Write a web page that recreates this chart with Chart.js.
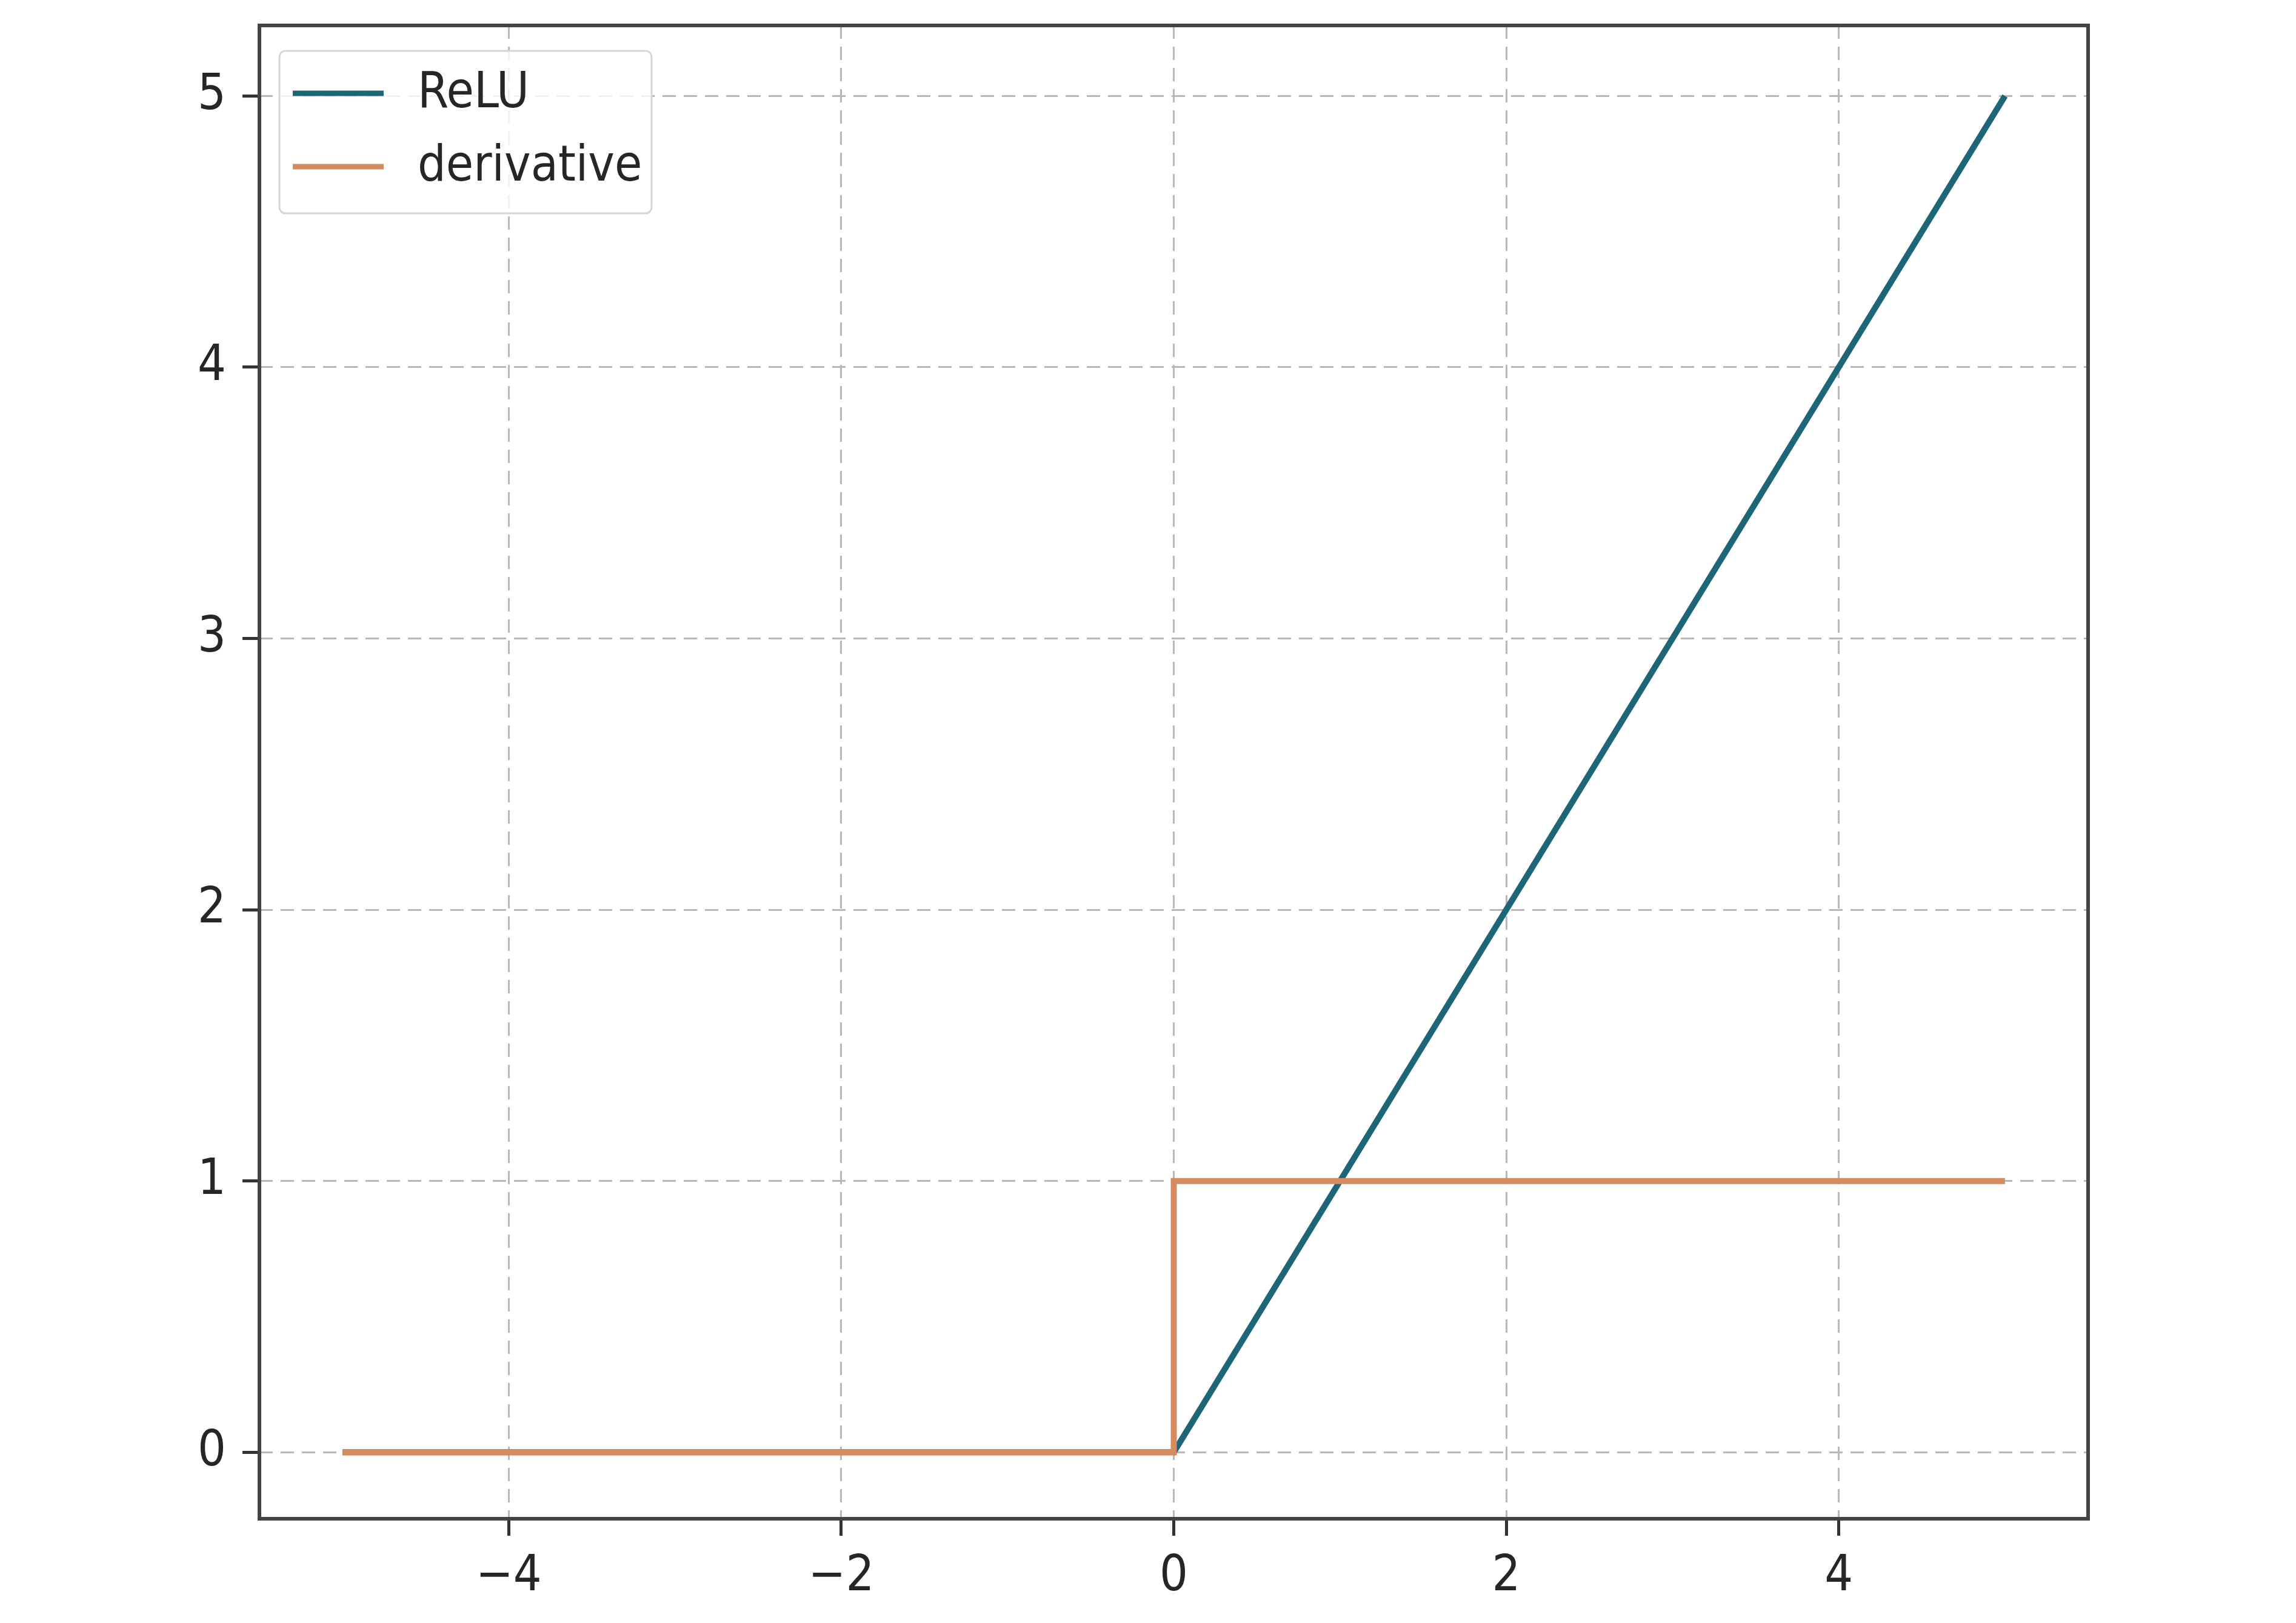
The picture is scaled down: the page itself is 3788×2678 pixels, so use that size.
<!DOCTYPE html>
<html>
<head>
<meta charset="utf-8">
<script src="https://cdn.jsdelivr.net/npm/chart.js@4.4.1/dist/chart.umd.min.js"></script>
<style>
  html, body { margin: 0; padding: 0; background: #ffffff; }
  #wrap { width: 3788px; height: 2678px; }
</style>
</head>
<body>
<div id="wrap"><canvas id="reluChart" width="3788" height="2678"></canvas></div>
<script>
// ===============================
// DATA
// ===============================
const reluX = [-5, 0, 5];
const reluY = [0, 0, 5];

const derivX = [-5, 0, 0, 5];
const derivY = [0, 0, 1, 1];

const xTicks = [-4, -2, 0, 2, 4];
const yTicks = [0, 1, 2, 3, 4, 5];

const seriesNames = ["ReLU", "derivative"];
const seriesColors = ["#1d6677", "#d68a60"];

const FONT = "'DejaVu Sans Condensed', 'DejaVu Sans', sans-serif";
const FONT_SIZE = 82;

// ===============================
// PLUGINS
// ===============================
const framePlugin = {
  id: "frame",
  afterDatasetsDraw(chart) {
    const { ctx, chartArea: a } = chart;
    ctx.save();
    ctx.strokeStyle = "#444444";
    ctx.lineWidth = 6;
    ctx.strokeRect(a.left, a.top, a.right - a.left, a.bottom - a.top);
    ctx.restore();
  },
};

const legendBoxPlugin = {
  id: "legendBox",
  afterDraw(chart) {
    const { ctx, chartArea: a } = chart;
    const x = a.left + 33;
    const y = a.top + 42;
    const w = 614;
    const h = 268;

    ctx.save();
    ctx.beginPath();
    ctx.roundRect(x, y, w, h, 10);
    ctx.fillStyle = "rgba(255,255,255,0.8)";
    ctx.fill();
    ctx.lineWidth = 3;
    ctx.strokeStyle = "#d6d6d6";
    ctx.stroke();

    ctx.font = FONT_SIZE + "px " + FONT;
    ctx.textBaseline = "middle";
    ctx.textAlign = "left";

    chart.data.datasets.forEach((ds, i) => {
      const rowY = y + 70 + i * 121;
      ctx.beginPath();
      ctx.moveTo(x + 22, rowY);
      ctx.lineTo(x + 172, rowY);
      ctx.lineWidth = 9;
      ctx.strokeStyle = ds.borderColor;
      ctx.stroke();

      ctx.fillStyle = "#262626";
      ctx.fillText(ds.label, x + 228, rowY + 2);
    });
    ctx.restore();
  },
};

// ===============================
// CHART
// ===============================
const toPoints = (xs, ys) => xs.map((x, i) => ({ x: x, y: ys[i] }));

const gridOpts = {
  color: "#b8b8b8",
  lineWidth: 3,
  tickLength: 28,
  tickColor: "#333333",
  tickWidth: 5,
  tickBorderDash: [],
};

new Chart(document.getElementById("reluChart"), {
  type: "line",
  data: {
    datasets: [
      {
        label: seriesNames[0],
        data: toPoints(reluX, reluY),
        borderColor: seriesColors[0],
        borderWidth: 10,
        pointRadius: 0,
        tension: 0,
        fill: false,
        order: 1,
      },
      {
        label: seriesNames[1],
        data: toPoints(derivX, derivY),
        borderColor: seriesColors[1],
        borderWidth: 10,
        pointRadius: 0,
        tension: 0,
        fill: false,
        order: 0,
      },
    ],
  },
  options: {
    responsive: false,
    animation: false,
    layout: { padding: { top: 42, right: 343, bottom: 0, left: 0 } },
    plugins: {
      legend: { display: false },
      tooltip: { enabled: false },
    },
    scales: {
      x: {
        type: "linear",
        min: -5.5,
        max: 5.5,
        afterBuildTicks: (scale) => {
          scale.ticks = xTicks.map((v) => ({ value: v }));
        },
        afterFit: (scale) => {
          scale.height = 2678 - 2506;
          scale.paddingLeft = 0;
          scale.paddingRight = 0;
        },
        ticks: {
          font: { family: FONT, size: FONT_SIZE },
          color: "#262626",
          padding: 20,
          callback: (v) => String(v).replace("-", "\u2212"),
        },
        grid: gridOpts,
        border: { display: false, dash: [22, 13] },
      },
      y: {
        type: "linear",
        min: -0.245,
        max: 5.26,
        afterBuildTicks: (scale) => {
          scale.ticks = yTicks.map((v) => ({ value: v }));
        },
        afterFit: (scale) => {
          scale.width = 428;
          scale.paddingTop = 0;
          scale.paddingBottom = 0;
        },
        ticks: {
          font: { family: FONT, size: FONT_SIZE },
          color: "#262626",
          padding: 27,
          callback: (v) => String(v),
        },
        grid: gridOpts,
        border: { display: false, dash: [22, 13] },
      },
    },
  },
  plugins: [framePlugin, legendBoxPlugin],
});
</script>
</body>
</html>
